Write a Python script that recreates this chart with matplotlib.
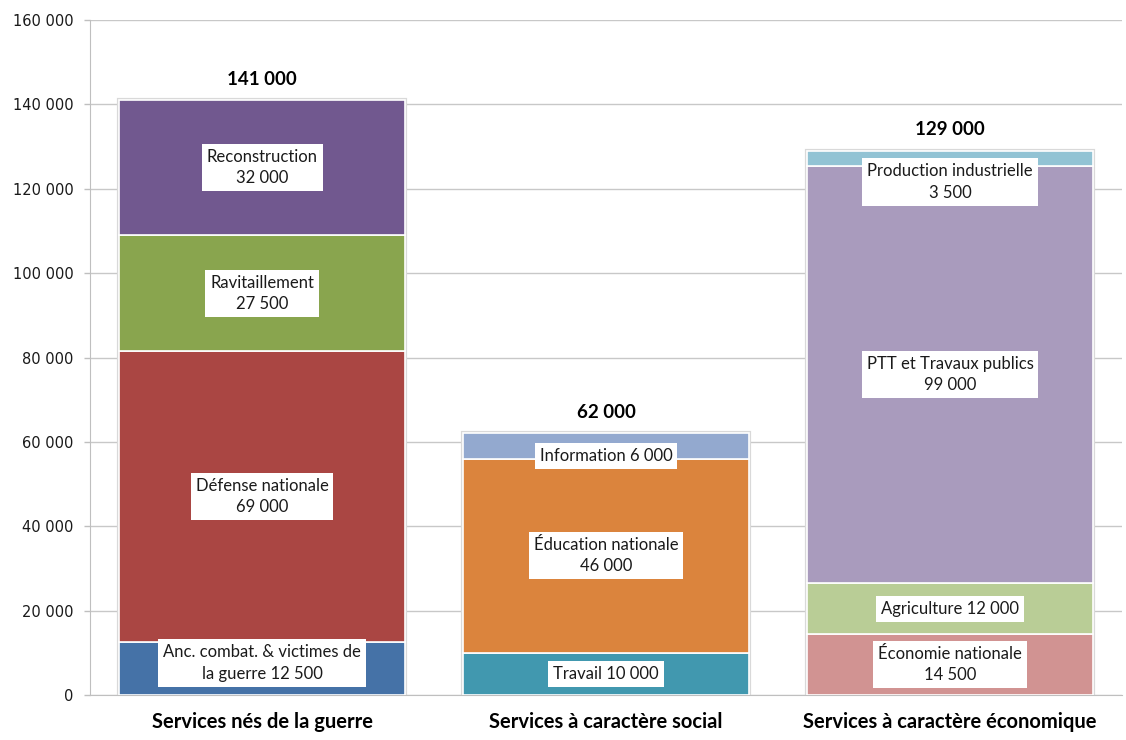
import matplotlib.pyplot as plt
from matplotlib.ticker import FuncFormatter

# Catégories (axe des x)
categories = ['Services nés de la guerre', 'Services à caractère social',
              'Services à caractère économique']

# Segments par catégorie (du bas vers le haut)
guerre_names = ['Anc. combat. & victimes de\nla guerre ', 'Défense nationale\n',
                'Ravitaillement\n', 'Reconstruction\n']
guerre_values = [12500, 69000, 27500, 32000]
guerre_colors = ['#4572A7', '#AA4643', '#89A54E', '#71588F']
guerre_label_y = [7600, 47000, 95250, 125000]

social_names = ['Travail ', 'Éducation nationale\n', 'Information ']
social_values = [10000, 46000, 6000]
social_colors = ['#4198AF', '#DB843D', '#93A9CF']
social_label_y = [5000, 33000, 56600]

eco_names = ['Économie nationale\n', 'Agriculture ', 'PTT et Travaux publics\n',
             'Production industrielle\n']
eco_values = [14500, 12000, 99000, 3500]
eco_colors = ['#D19392', '#B9CD96', '#A99BBD', '#92C3D4']
eco_label_y = [7300, 20500, 76000, 121600]

yticks = [0, 20000, 40000, 60000, 80000, 100000, 120000, 140000, 160000]


def fmt(v):
    return f"{int(v):,}".replace(',', ' ')


plt.rcParams['font.family'] = ['Lato', 'DejaVu Sans']

fig = plt.figure(figsize=(11.26, 7.40), dpi=100)
ax = fig.add_axes([90 / 1126, 45 / 740, 1032 / 1126, 675 / 740])

groups = [(guerre_names, guerre_values, guerre_colors, guerre_label_y),
          (social_names, social_values, social_colors, social_label_y),
          (eco_names, eco_values, eco_colors, eco_label_y)]

width = 0.83
for i, (names, values, colors, label_y) in enumerate(groups):
    total = sum(values)
    # ombre légère autour de la barre
    ax.bar(i, total, width, color='none', edgecolor='#d9d9d9', lw=3, zorder=2)
    bottom = 0
    for name, v, c, ly in zip(names, values, colors, label_y):
        ax.bar(i, v, width, bottom=bottom, color=c, edgecolor='white', lw=1.2, zorder=3)
        ax.text(i, ly, name + fmt(v), ha='center', va='center', fontsize=12,
                color='#1a1a1a', zorder=5, linespacing=1.4,
                bbox=dict(boxstyle='square,pad=0.3', fc='white', ec='none'))
        bottom += v
    ax.annotate(fmt(total), (i, total), xytext=(0, 9), textcoords='offset points',
                ha='center', va='bottom', fontsize=13.5, fontweight='bold')

ax.set_xlim(-0.5, 2.5)
ax.set_ylim(0, 160000)
ax.set_yticks(yticks)
ax.yaxis.set_major_formatter(FuncFormatter(lambda v, p: fmt(v)))
for lab in ax.get_yticklabels():
    lab.set_family('DejaVu Sans')
    lab.set_fontsize(10.5)
ax.tick_params(axis='y', length=4, width=1, color='#bfbfbf', pad=8, labelcolor='#1a1a1a')
ax.set_xticks(range(3))
ax.set_xticklabels(categories, fontsize=14.5, fontweight='bold')
ax.tick_params(axis='x', length=0, pad=12)

ax.grid(axis='y', color='#c8c8c8', lw=1)
ax.set_axisbelow(True)
for s in ['top', 'right']:
    ax.spines[s].set_visible(False)
ax.spines['left'].set_color('#bfbfbf')
ax.spines['bottom'].set_color('#bfbfbf')

fig.savefig('out.png', dpi=100)
